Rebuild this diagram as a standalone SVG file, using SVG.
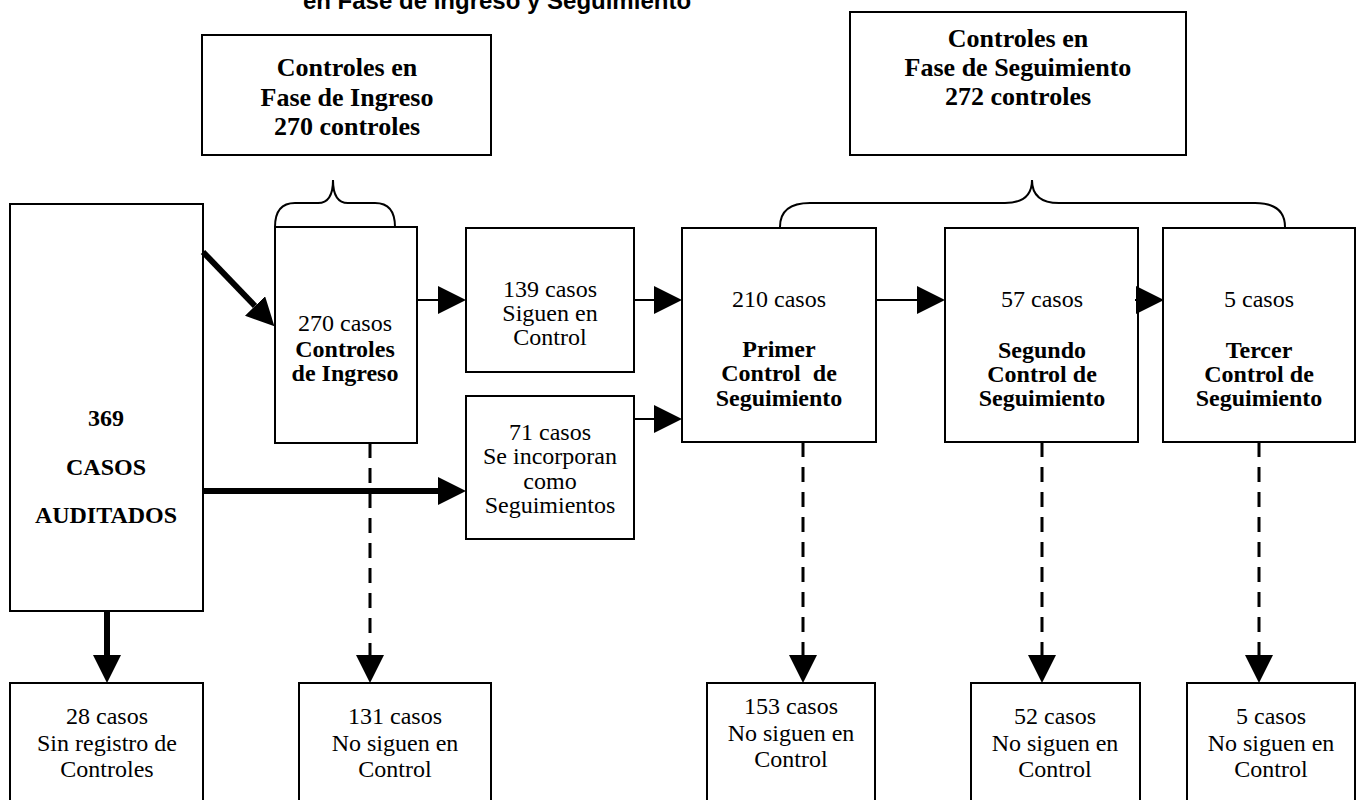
<svg xmlns="http://www.w3.org/2000/svg" width="1360" height="800" viewBox="0 0 1360 800">
<style>
.box{fill:#fff;stroke:#000;stroke-width:2}
.t{font-family:"Liberation Serif","Times New Roman",serif;font-size:24px;text-anchor:middle;fill:#000}
.b{font-weight:bold}
.h{font-family:"Liberation Serif","Times New Roman",serif;font-size:26px;font-weight:bold;text-anchor:middle;fill:#000}
.title{font-family:"Liberation Sans",Arial,sans-serif;font-size:24px;font-weight:bold;text-anchor:middle;fill:#000}
.thin{stroke:#000;stroke-width:2;fill:none}
.thick{stroke:#000;stroke-width:6;fill:none}
.dash{stroke:#000;stroke-width:3;fill:none;stroke-dasharray:15 10}
.brace{stroke:#000;stroke-width:2;fill:none}
</style>
<defs>
<marker id="ah" viewBox="0 0 28 28" refX="0" refY="14" markerWidth="28" markerHeight="28" markerUnits="userSpaceOnUse" orient="auto">
<path d="M0,0 L28,14 L0,28 z" fill="#000"/>
</marker>
</defs>
<rect width="1360" height="800" fill="#fff"/>
<text class="title" x="497" y="9">en Fase de Ingreso y Seguimiento</text>

<g id="fase-ingreso">
<rect class="box" x="202" y="35" width="289" height="120"/>
<text class="h" x="347" y="76">Controles en</text>
<text class="h" x="347" y="106">Fase de Ingreso</text>
<text class="h" x="347" y="135">270 controles</text>
</g>
<g id="fase-seguimiento">
<rect class="box" x="850" y="12" width="336" height="143"/>
<text class="h" x="1018" y="47">Controles en</text>
<text class="h" x="1018" y="76">Fase de Seguimiento</text>
<text class="h" x="1018" y="105">272 controles</text>
</g>
<g id="braces">
<path class="brace" d="M275,227 Q275,203 295,203 L318,203 Q333,203 333,180 Q333,203 348,203 L375,203 Q395,203 395,227"/>
<path class="brace" d="M780,227 Q780,203 810,203 L1005,203 Q1032,203 1032,180 Q1032,203 1059,203 L1255,203 Q1285,203 1285,227"/>
</g>

<g id="auditados">
<rect class="box" x="10" y="204" width="193" height="407"/>
<text class="t b" x="106" y="426">369</text>
<text class="t b" x="106" y="475">CASOS</text>
<text class="t b" x="106" y="523">AUDITADOS</text>
</g>
<g id="ingreso">
<rect class="box" x="275" y="227" width="142" height="216"/>
<text class="t" x="345" y="331">270 casos</text>
<text class="t b" x="345" y="357">Controles</text>
<text class="t b" x="345" y="381">de Ingreso</text>
</g>
<g id="siguen">
<rect class="box" x="466" y="228" width="168" height="144"/>
<text class="t" x="550" y="297">139 casos</text>
<text class="t" x="550" y="321">Siguen en</text>
<text class="t" x="550" y="345">Control</text>
</g>
<g id="incorporan">
<rect class="box" x="466" y="396" width="168" height="143"/>
<text class="t" x="550" y="440">71 casos</text>
<text class="t" x="550" y="464">Se incorporan</text>
<text class="t" x="550" y="489">como</text>
<text class="t" x="550" y="513">Seguimientos</text>
</g>
<g id="primer">
<rect class="box" x="682" y="228" width="194" height="214"/>
<text class="t" x="779" y="307">210 casos</text>
<text class="t b" x="779" y="357">Primer</text>
<text class="t b" x="779" y="381" xml:space="preserve">Control  de</text>
<text class="t b" x="779" y="406">Seguimiento</text>
</g>
<g id="segundo">
<rect class="box" x="945" y="228" width="193" height="214"/>
<text class="t" x="1042" y="307">57 casos</text>
<text class="t b" x="1042" y="358">Segundo</text>
<text class="t b" x="1042" y="382">Control de</text>
<text class="t b" x="1042" y="406">Seguimiento</text>
</g>
<g id="tercer">
<rect class="box" x="1163" y="228" width="192" height="214"/>
<text class="t" x="1259" y="307">5 casos</text>
<text class="t b" x="1259" y="358">Tercer</text>
<text class="t b" x="1259" y="382">Control de</text>
<text class="t b" x="1259" y="406">Seguimiento</text>
</g>
<g id="sin-registro">
<rect class="box" x="10" y="683" width="193" height="130"/>
<text class="t" x="107" y="724">28 casos</text>
<text class="t" x="107" y="751">Sin registro de</text>
<text class="t" x="107" y="777">Controles</text>
</g>
<g id="no-siguen-131">
<rect class="box" x="299" y="683" width="192" height="130"/>
<text class="t" x="395" y="724">131 casos</text>
<text class="t" x="395" y="751">No siguen en</text>
<text class="t" x="395" y="777">Control</text>
</g>
<g id="no-siguen-153">
<rect class="box" x="707" y="683" width="168" height="130"/>
<text class="t" x="791" y="714">153 casos</text>
<text class="t" x="791" y="741">No siguen en</text>
<text class="t" x="791" y="767">Control</text>
</g>
<g id="no-siguen-52">
<rect class="box" x="971" y="683" width="169" height="130"/>
<text class="t" x="1055" y="724">52 casos</text>
<text class="t" x="1055" y="751">No siguen en</text>
<text class="t" x="1055" y="777">Control</text>
</g>
<g id="no-siguen-5">
<rect class="box" x="1187" y="683" width="168" height="130"/>
<text class="t" x="1271" y="724">5 casos</text>
<text class="t" x="1271" y="751">No siguen en</text>
<text class="t" x="1271" y="777">Control</text>
</g>

<g id="connectors">
<line class="thick" x1="203" y1="252" x2="255" y2="306" marker-end="url(#ah)"/>
<line class="thick" x1="203" y1="491" x2="438" y2="491" marker-end="url(#ah)"/>
<line class="thick" x1="107" y1="611" x2="107" y2="655" marker-end="url(#ah)"/>
<line class="thin" x1="417" y1="300" x2="438" y2="300" marker-end="url(#ah)"/>
<line class="thin" x1="634" y1="300" x2="654" y2="300" marker-end="url(#ah)"/>
<line class="thin" x1="634" y1="419" x2="654" y2="419" marker-end="url(#ah)"/>
<line class="thin" x1="876" y1="300" x2="917" y2="300" marker-end="url(#ah)"/>
<line class="thin" x1="1135" y1="300" x2="1136" y2="300" marker-end="url(#ah)"/>
<line class="dash" x1="370" y1="443" x2="370" y2="655" marker-end="url(#ah)"/>
<line class="dash" x1="803" y1="442" x2="803" y2="655" marker-end="url(#ah)"/>
<line class="dash" x1="1042" y1="442" x2="1042" y2="655" marker-end="url(#ah)"/>
<line class="dash" x1="1259" y1="442" x2="1259" y2="655" marker-end="url(#ah)"/>
</g>
</svg>
